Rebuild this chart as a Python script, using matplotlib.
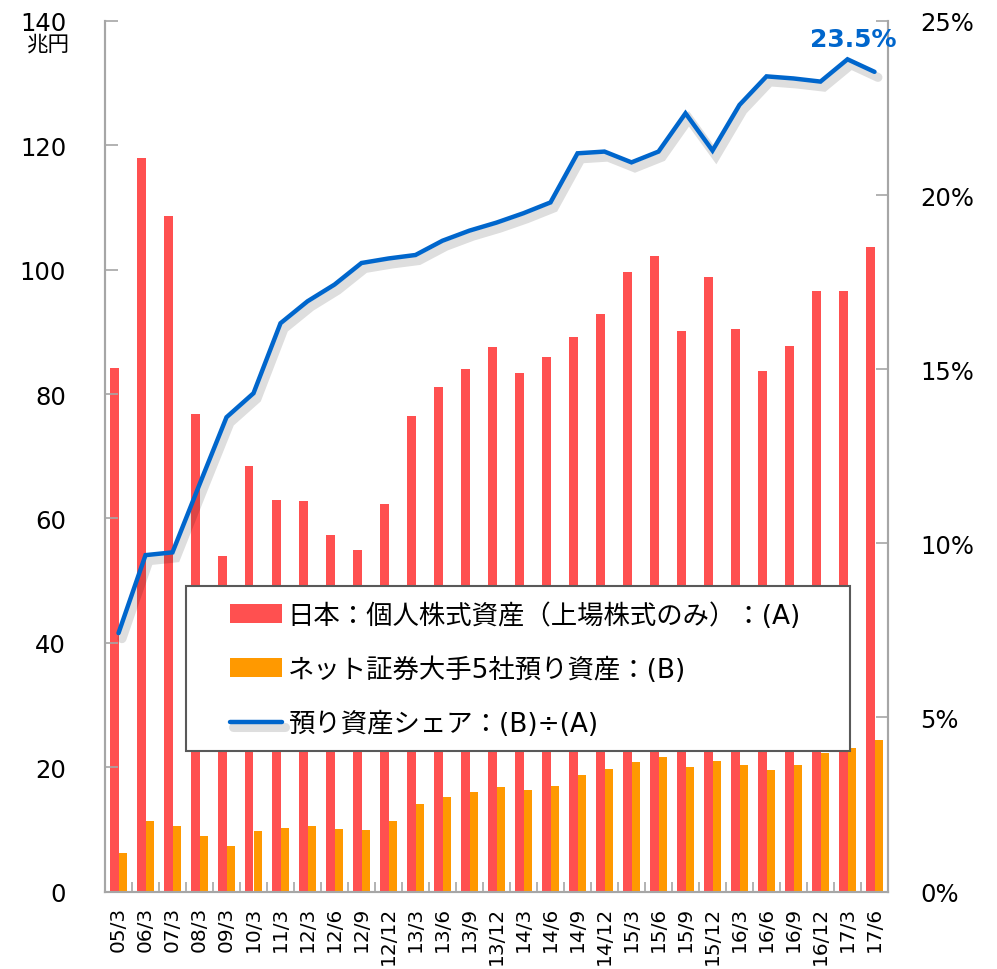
import numpy as np
import matplotlib
matplotlib.use("Agg")
import matplotlib.pyplot as plt
import matplotlib.patheffects as pe
from matplotlib.patches import Rectangle
from matplotlib.ticker import FixedLocator, PercentFormatter

plt.rcParams['font.family'] = ['DejaVu Sans', 'Noto Sans CJK JP']

periods = ['05/3', '06/3', '07/3', '08/3', '09/3', '10/3', '11/3', '12/3', '12/6', '12/9',
           '12/12', '13/3', '13/6', '13/9', '13/12', '14/3', '14/6', '14/9', '14/12', '15/3',
           '15/6', '15/9', '15/12', '16/3', '16/6', '16/9', '16/12', '17/3', '17/6']
kojin = [84.2, 118.0, 108.6, 76.8, 54.0, 68.4, 63.0, 62.8, 57.4, 55.0,
         62.3, 76.5, 81.2, 84.1, 87.5, 83.4, 86.0, 89.1, 92.9, 99.6,
         102.2, 90.2, 98.9, 90.5, 83.7, 87.7, 96.5, 96.6, 103.6]
net5 = [6.2, 11.4, 10.5, 8.9, 7.3, 9.8, 10.2, 10.6, 10.0, 9.9,
        11.3, 14.0, 15.2, 16.0, 16.8, 16.3, 17.0, 18.8, 19.7, 20.8,
        21.7, 20.1, 21.0, 20.4, 19.5, 20.4, 22.3, 23.0, 24.3]
share = [7.42, 9.66, 9.74, 11.69, 13.62, 14.31, 16.32, 16.95, 17.43, 18.05,
         18.18, 18.28, 18.69, 18.98, 19.21, 19.48, 19.79, 21.20, 21.25, 20.94,
         21.25, 22.35, 21.28, 22.59, 23.41, 23.35, 23.26, 23.90, 23.54]

red = '#FF5050'
orange = '#FF9900'
blue = '#0066CC'
grey = '#A6A6A6'

fig = plt.figure(figsize=(9.97, 9.70), dpi=100)
ax = fig.add_axes([105/997, 1-892.5/970, (888-105)/997, (892.5-22)/970])
ax2 = ax.twinx()

x = np.arange(len(periods))
w = 0.3
b1 = ax.bar(x - w/2, kojin, w, color=red, label='日本：個人株式資産（上場株式のみ）：(A)')
b2 = ax.bar(x + w/2, net5, w, color=orange, label='ネット証券大手5社預り資産：(B)')
ln, = ax2.plot(x, share, color=blue, lw=3.2, solid_capstyle='round', solid_joinstyle='miter',
               label='預り資産シェア：(B)÷(A)',
               path_effects=[pe.SimpleLineShadow(offset=(2.5, -4), shadow_color='k', alpha=0.13, linewidth=6.5),
                             pe.Normal()])

ax.set_xlim(-0.5, len(periods) - 0.5)
ax.set_ylim(0, 140)
ax2.set_ylim(0, 25)
ax.set_yticks(np.arange(0, 141, 20))
ax2.set_yticks(np.arange(0, 26, 5))
ax2.yaxis.set_major_formatter(PercentFormatter(decimals=0))

ax.set_xticks(x)
ax.set_xticklabels(periods, rotation=90, fontsize=14.5)
ax.xaxis.set_minor_locator(FixedLocator(np.arange(0.5, len(periods) - 1, 1)))
ax.tick_params(axis='x', which='major', length=0, pad=10)
ax.tick_params(axis='x', which='minor', direction='in', length=7, color=grey, width=1.2)
ax.tick_params(axis='y', direction='in', length=9, color=grey, width=1.2, labelsize=17.5, pad=28)
ax2.tick_params(axis='y', direction='in', length=9, color=grey, width=1.2, labelsize=17.5, pad=23)

for a in (ax, ax2):
    a.spines['top'].set_visible(False)
    for s in ('left', 'right', 'bottom'):
        a.spines[s].set_color(grey)
        a.spines[s].set_linewidth(1.5)

fig.text(48/997, 1-45/970, '兆円', fontsize=15.5, ha='center', va='center')
ax2.annotate('23.5%', xy=(x[-1], share[-1]), xytext=(853/997, 1-40/970), textcoords='figure fraction',
             ha='center', va='center', fontsize=18, fontweight='bold', color=blue)

# legend box
box = Rectangle((186/997, 1-752/970), (850-186)/997, (752-587)/970, transform=fig.transFigure,
                facecolor='white', edgecolor='#595959', linewidth=1.5, zorder=4)
fig.patches.append(box)
leg = fig.legend(handles=[b1, b2, ln], loc='upper left', bbox_to_anchor=(230/997, 1-603/970),
                 frameon=False, fontsize=19, borderpad=0, borderaxespad=0, handlelength=1.97,
                 handleheight=0.7, handletextpad=0.22, labelspacing=1.05)
leg.set_zorder(5)

fig.savefig('out.png', dpi=100)
